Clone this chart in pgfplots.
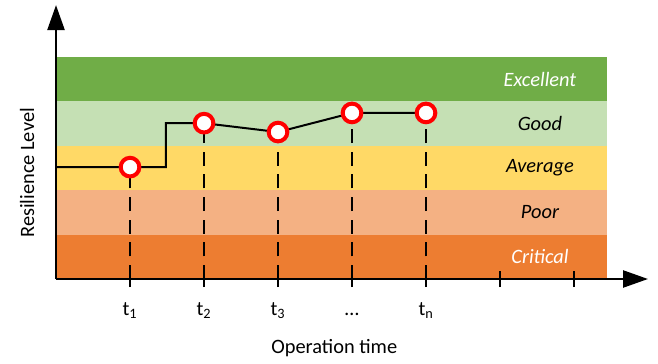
\documentclass[border=0pt]{standalone}
\usepackage{pgfplots}
\pgfplotsset{compat=1.18}
\usepackage{fontspec}
\setmainfont{Carlito}
\usetikzlibrary{arrows.meta}
\definecolor{exc}{HTML}{70AD47}
\definecolor{good}{HTML}{C5E0B4}
\definecolor{avg}{HTML}{FFD966}
\definecolor{poor}{HTML}{F4B183}
\definecolor{crit}{HTML}{ED7D31}
\begin{document}
\fontsize{15.3}{18}\selectfont
\begin{tikzpicture}
\begin{axis}[
 scale only axis, x=55.5pt, y=33.3pt, xmin=0, xmax=8, ymin=0, ymax=6.17,
 axis lines=left,
 axis line style={line width=1.8pt, -{Triangle[length=18.75pt,width=12.75pt]}},
 xtick={1,...,7}, xticklabels={}, ytick=\empty,
 tick align=center, major tick length=12pt, tick style={line width=1.5pt, black},
 clip=false, axis on top,
]
% bands (painted from top down, each filled to y=0)
\addplot[draw=none, fill=exc] coordinates {(0,5)(7.45,5)} \closedcycle;
\addplot[draw=none, fill=good] coordinates {(0,4)(7.45,4)} \closedcycle;
\addplot[draw=none, fill=avg] coordinates {(0,3)(7.45,3)} \closedcycle;
\addplot[draw=none, fill=poor] coordinates {(0,2)(7.45,2)} \closedcycle;
\addplot[draw=none, fill=crit] coordinates {(0,1)(7.45,1)} \closedcycle;
% dashed drop lines
\addplot[black, line width=1.5pt, dash pattern=on 10.5pt off 6.5pt] coordinates {(1,0)(1,2.52)};
\addplot[black, line width=1.5pt, dash pattern=on 10.5pt off 6.5pt] coordinates {(2,0)(2,3.51)};
\addplot[black, line width=1.5pt, dash pattern=on 10.5pt off 6.5pt] coordinates {(3,0)(3,3.31)};
\addplot[black, line width=1.5pt, dash pattern=on 10.5pt off 6.5pt] coordinates {(4,0)(4,3.74)};
\addplot[black, line width=1.5pt, dash pattern=on 10.5pt off 6.5pt] coordinates {(5,0)(5,3.74)};
% resilience line
\addplot[black, line width=1.5pt] coordinates {(0,2.52)(1.486,2.52)(1.486,3.51)(2,3.51)(3,3.31)(4,3.74)(5,3.74)};
% markers
\addplot[only marks, mark=*, mark size=7pt, mark options={fill=white, draw=red, line width=3pt}] coordinates {(1,2.52)(2,3.51)(3,3.31)(4,3.74)(5,3.74)};
% band labels
\node[white, font=\itshape] at (axis cs:6.54,4.5) {Excellent};
\node[black, font=\itshape] at (axis cs:6.54,3.5) {Good};
\node[black, font=\itshape] at (axis cs:6.54,2.5) {Average};
\node[black, font=\itshape] at (axis cs:6.54,1.5) {Poor};
\node[white, font=\itshape] at (axis cs:6.54,0.5) {Critical};
% tick labels
\node[anchor=base] at (axis cs:1,-0.833) {t\textsubscript{1}};
\node[anchor=base] at (axis cs:2,-0.833) {t\textsubscript{2}};
\node[anchor=base] at (axis cs:3,-0.833) {t\textsubscript{3}};
\node[anchor=base] at (axis cs:4,-0.833) {\ldots};
\node[anchor=base] at (axis cs:5,-0.833) {t\textsubscript{n}};
% axis labels
\node[anchor=base] at (axis cs:3.76,-1.667) {Operation time};
\node[rotate=90] at (axis cs:-0.39,2.39) {Resilience Level};
% bounding box
\path (axis cs:-0.757,-1.824) rectangle (axis cs:8.135,6.284);
\end{axis}
\end{tikzpicture}
\end{document}
